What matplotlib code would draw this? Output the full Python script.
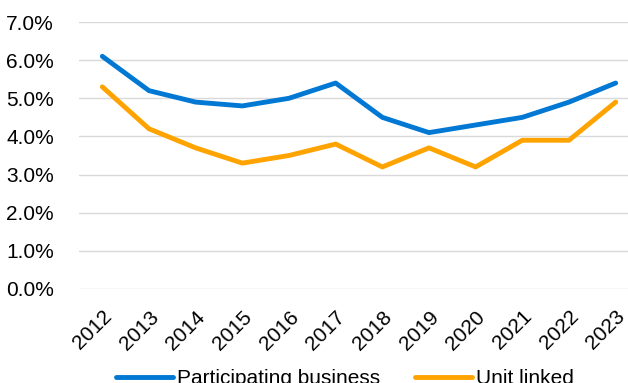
import matplotlib.pyplot as plt
from matplotlib.ticker import FuncFormatter

# yearly rates, in percent
anyos = ['2012', '2013', '2014', '2015', '2016', '2017',
         '2018', '2019', '2020', '2021', '2022', '2023']
participating = [6.1, 5.2, 4.9, 4.8, 5.0, 5.4, 4.5, 4.1, 4.3, 4.5, 4.9, 5.4]
unit_linked = [5.3, 4.2, 3.7, 3.3, 3.5, 3.8, 3.2, 3.7, 3.2, 3.9, 3.9, 4.9]

plt.rcParams['font.family'] = ['Liberation Sans', 'DejaVu Sans']

fig = plt.figure(figsize=(6.28, 3.83), dpi=100)
# right edge runs past the figure, so the last category gets clipped
ax = fig.add_axes([79 / 628, 94 / 383, 560 / 628, 267 / 383])

x = range(len(anyos))
ax.plot(x, participating, color='#0078D4', lw=3.5, label='Participating business',
        solid_capstyle='round', solid_joinstyle='round')
ax.plot(x, unit_linked, color='#FFA300', lw=3.5, label='Unit linked',
        solid_capstyle='round', solid_joinstyle='round')

ax.set_xlim(-0.5, len(anyos) - 0.5)
ax.set_ylim(0, 7)
ax.set_yticks([i for i in range(8)])
ax.yaxis.set_major_formatter(FuncFormatter(lambda v, p: f'{v:.1f}%'))
ax.set_xticks(list(x))
ax.set_xticklabels(anyos, rotation=45, ha='right', rotation_mode='anchor')

ax.grid(axis='y', color='#D9D9D9', lw=1)
ax.set_axisbelow(True)
for s in ax.spines.values():
    s.set_visible(False)
ax.tick_params(axis='both', length=0, labelsize=15, colors='black')
ax.tick_params(axis='y', pad=18)
ax.tick_params(axis='x', pad=13)

# legend sits at the very bottom edge, partly below the figure
fig.legend(loc='center', bbox_to_anchor=(345 / 628, 4 / 383), ncol=2,
           frameon=False, fontsize=15, handlelength=2.7, handletextpad=0.2,
           columnspacing=1.7)

fig.savefig('out.png', dpi=100)
